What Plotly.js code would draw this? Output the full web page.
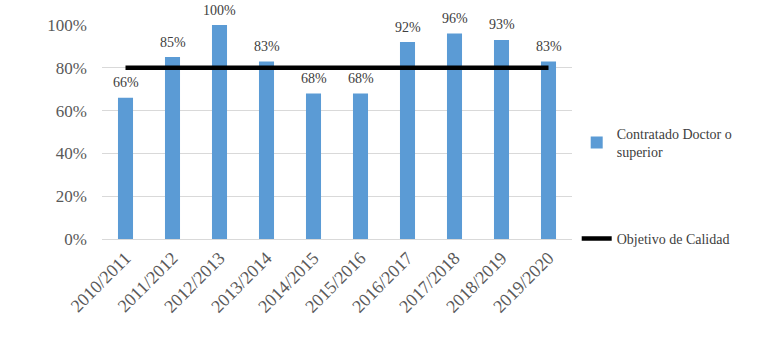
<!DOCTYPE html>
<html><head><meta charset="utf-8">
<script src="https://cdn.plot.ly/plotly-3.0.1.min.js"></script>
<style>html,body{margin:0;padding:0;background:#fff}#chart{width:768px;height:355px}</style>
</head><body><div id="chart"></div>
<script>
const categories = ["2010/2011","2011/2012","2012/2013","2013/2014","2014/2015","2015/2016","2016/2017","2017/2018","2018/2019","2019/2020"];
const doctorValues = [0.66, 0.85, 1.00, 0.83, 0.68, 0.68, 0.92, 0.96, 0.93, 0.83];
const targetValues = [0.8, 0.8, 0.8, 0.8, 0.8, 0.8, 0.8, 0.8, 0.8, 0.8];
const yTickVals = [0, 0.2, 0.4, 0.6, 0.8, 1.0];
const yTickText = ["0%","20%","40%","60%","80%","100%"];
const serif = "Liberation Serif";

const traces = [
  {type:"bar", x:categories, y:doctorValues, name:"Contratado Doctor o<br>superior",
   marker:{color:"#5b9bd5"}, width:0.32, legend:"legend"},
  {type:"scatter", mode:"lines", x:categories, y:targetValues, name:"Objetivo de Calidad",
   line:{color:"#000000", width:4.5}, legend:"legend2"}
];

const annotations = categories.map((c,i)=>({
  x:c, y:doctorValues[i], xref:"x", yref:"y", text:Math.round(doctorValues[i]*100)+"%",
  showarrow:false, yshift:15, yanchor:"middle",
  font:{family:serif, size:14, color:"#404040"}
}));

const layout = {
  width:768, height:355,
  margin:{l:102, r:196, t:25, b:116},
  paper_bgcolor:"#fff", plot_bgcolor:"#fff",
  font:{family:serif, color:"#595959"},
  annotations:annotations,
  xaxis:{type:"category", tickangle:-45, tickfont:{family:serif,size:18,color:"#595959"},
         showgrid:false, showline:false, ticks:"", zeroline:false, ticklabelstandoff:4},
  yaxis:{range:[0,1.0], tickvals:yTickVals, ticktext:yTickText,
         tickfont:{family:serif,size:17,color:"#595959"},
         showgrid:true, gridcolor:"#d9d9d9", gridwidth:1, zeroline:true, zerolinecolor:"#d9d9d9",
         ticks:"", ticklen:0, automargin:false, ticklabelstandoff:14},
  legend:{x:1.01, y:0.45, xanchor:"left", yanchor:"middle", font:{family:serif,size:14,color:"#404040"},
          bgcolor:"rgba(0,0,0,0)", itemwidth:30},
  legend2:{x:1.01, y:0.0, xanchor:"left", yanchor:"middle", font:{family:serif,size:14,color:"#404040"},
          bgcolor:"rgba(0,0,0,0)", itemwidth:30},
  showlegend:true
};
Plotly.newPlot("chart", traces, layout, {staticPlot:true, displayModeBar:false});
</script></body></html>
